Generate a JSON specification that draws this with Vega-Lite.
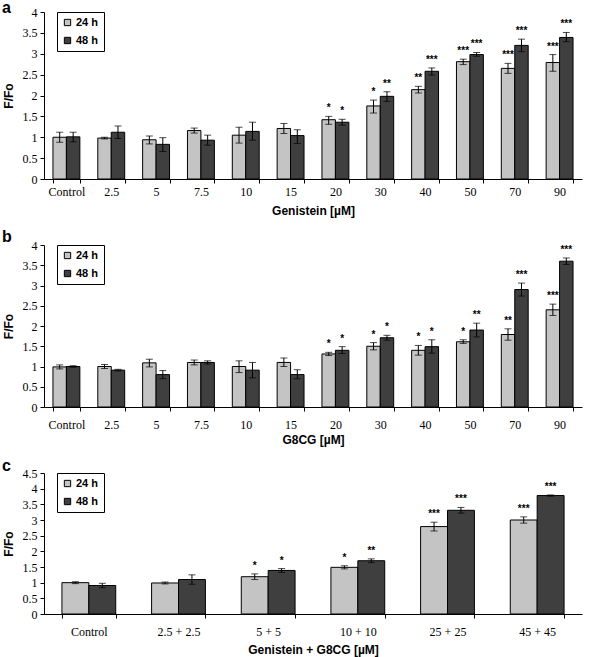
{
  "$schema": "https://vega.github.io/schema/vega-lite/v6.json",
  "padding": {"left": 2, "top": 0, "right": 8, "bottom": 4},
  "background": "white",
  "spacing": 13,
  "datasets": {
    "a": [
      {"conc": "Control", "time": "24 h", "mean": 1.0, "lo": 0.88, "hi": 1.12, "star": ""},
      {"conc": "Control", "time": "48 h", "mean": 1.01, "lo": 0.89, "hi": 1.12, "star": ""},
      {"conc": "2.5", "time": "24 h", "mean": 0.98, "lo": 0.96, "hi": 1.0, "star": ""},
      {"conc": "2.5", "time": "48 h", "mean": 1.12, "lo": 0.97, "hi": 1.27, "star": ""},
      {"conc": "5", "time": "24 h", "mean": 0.94, "lo": 0.84, "hi": 1.03, "star": ""},
      {"conc": "5", "time": "48 h", "mean": 0.83, "lo": 0.66, "hi": 0.99, "star": ""},
      {"conc": "7.5", "time": "24 h", "mean": 1.16, "lo": 1.1, "hi": 1.22, "star": ""},
      {"conc": "7.5", "time": "48 h", "mean": 0.93, "lo": 0.81, "hi": 1.05, "star": ""},
      {"conc": "10", "time": "24 h", "mean": 1.05, "lo": 0.86, "hi": 1.24, "star": ""},
      {"conc": "10", "time": "48 h", "mean": 1.14, "lo": 0.93, "hi": 1.36, "star": ""},
      {"conc": "15", "time": "24 h", "mean": 1.21, "lo": 1.09, "hi": 1.33, "star": ""},
      {"conc": "15", "time": "48 h", "mean": 1.04, "lo": 0.85, "hi": 1.18, "star": ""},
      {"conc": "20", "time": "24 h", "mean": 1.42, "lo": 1.31, "hi": 1.5, "star": "*"},
      {"conc": "20", "time": "48 h", "mean": 1.36, "lo": 1.29, "hi": 1.43, "star": "*"},
      {"conc": "30", "time": "24 h", "mean": 1.75, "lo": 1.58, "hi": 1.89, "star": "*"},
      {"conc": "30", "time": "48 h", "mean": 1.98, "lo": 1.86, "hi": 2.09, "star": "**"},
      {"conc": "40", "time": "24 h", "mean": 2.14, "lo": 2.06, "hi": 2.22, "star": "**"},
      {"conc": "40", "time": "48 h", "mean": 2.58, "lo": 2.49, "hi": 2.66, "star": "***"},
      {"conc": "50", "time": "24 h", "mean": 2.81, "lo": 2.74, "hi": 2.87, "star": "***"},
      {"conc": "50", "time": "48 h", "mean": 2.98, "lo": 2.94, "hi": 3.03, "star": "***"},
      {"conc": "70", "time": "24 h", "mean": 2.65, "lo": 2.53, "hi": 2.77, "star": "***"},
      {"conc": "70", "time": "48 h", "mean": 3.2, "lo": 3.05, "hi": 3.35, "star": "***"},
      {"conc": "90", "time": "24 h", "mean": 2.79, "lo": 2.58, "hi": 2.98, "star": "***"},
      {"conc": "90", "time": "48 h", "mean": 3.39, "lo": 3.29, "hi": 3.51, "star": "***"}
    ],
    "b": [
      {"conc": "Control", "time": "24 h", "mean": 0.99, "lo": 0.94, "hi": 1.04, "star": ""},
      {"conc": "Control", "time": "48 h", "mean": 1.0, "lo": 0.98, "hi": 1.02, "star": ""},
      {"conc": "2.5", "time": "24 h", "mean": 1.0, "lo": 0.95, "hi": 1.05, "star": ""},
      {"conc": "2.5", "time": "48 h", "mean": 0.91, "lo": 0.89, "hi": 0.93, "star": ""},
      {"conc": "5", "time": "24 h", "mean": 1.09, "lo": 0.99, "hi": 1.18, "star": ""},
      {"conc": "5", "time": "48 h", "mean": 0.8, "lo": 0.7, "hi": 0.9, "star": ""},
      {"conc": "7.5", "time": "24 h", "mean": 1.1, "lo": 1.04, "hi": 1.16, "star": ""},
      {"conc": "7.5", "time": "48 h", "mean": 1.1, "lo": 1.06, "hi": 1.14, "star": ""},
      {"conc": "10", "time": "24 h", "mean": 1.0, "lo": 0.85, "hi": 1.14, "star": ""},
      {"conc": "10", "time": "48 h", "mean": 0.91, "lo": 0.72, "hi": 1.1, "star": ""},
      {"conc": "15", "time": "24 h", "mean": 1.1, "lo": 1.0, "hi": 1.21, "star": ""},
      {"conc": "15", "time": "48 h", "mean": 0.8, "lo": 0.7, "hi": 0.92, "star": ""},
      {"conc": "20", "time": "24 h", "mean": 1.31, "lo": 1.27, "hi": 1.35, "star": "*"},
      {"conc": "20", "time": "48 h", "mean": 1.4, "lo": 1.32, "hi": 1.49, "star": "*"},
      {"conc": "30", "time": "24 h", "mean": 1.5, "lo": 1.41, "hi": 1.59, "star": "*"},
      {"conc": "30", "time": "48 h", "mean": 1.71, "lo": 1.65, "hi": 1.77, "star": "*"},
      {"conc": "40", "time": "24 h", "mean": 1.4, "lo": 1.28, "hi": 1.52, "star": "*"},
      {"conc": "40", "time": "48 h", "mean": 1.49, "lo": 1.33, "hi": 1.66, "star": "*"},
      {"conc": "50", "time": "24 h", "mean": 1.61, "lo": 1.57, "hi": 1.66, "star": "*"},
      {"conc": "50", "time": "48 h", "mean": 1.9, "lo": 1.73, "hi": 2.07, "star": "**"},
      {"conc": "70", "time": "24 h", "mean": 1.79, "lo": 1.65, "hi": 1.93, "star": "**"},
      {"conc": "70", "time": "48 h", "mean": 2.9, "lo": 2.74, "hi": 3.06, "star": "***"},
      {"conc": "90", "time": "24 h", "mean": 2.4, "lo": 2.26, "hi": 2.54, "star": "***"},
      {"conc": "90", "time": "48 h", "mean": 3.6, "lo": 3.52, "hi": 3.68, "star": "***"}
    ],
    "c": [
      {"conc": "Control", "time": "24 h", "mean": 1.0, "lo": 0.97, "hi": 1.03, "star": ""},
      {"conc": "Control", "time": "48 h", "mean": 0.91, "lo": 0.84, "hi": 0.98, "star": ""},
      {"conc": "2.5 + 2.5", "time": "24 h", "mean": 0.99, "lo": 0.96, "hi": 1.02, "star": ""},
      {"conc": "2.5 + 2.5", "time": "48 h", "mean": 1.1, "lo": 0.95, "hi": 1.25, "star": ""},
      {"conc": "5 + 5", "time": "24 h", "mean": 1.19, "lo": 1.1, "hi": 1.28, "star": "*"},
      {"conc": "5 + 5", "time": "48 h", "mean": 1.39, "lo": 1.33, "hi": 1.45, "star": "*"},
      {"conc": "10 + 10", "time": "24 h", "mean": 1.49, "lo": 1.44, "hi": 1.54, "star": "*"},
      {"conc": "10 + 10", "time": "48 h", "mean": 1.7, "lo": 1.64, "hi": 1.76, "star": "**"},
      {"conc": "25 + 25", "time": "24 h", "mean": 2.79, "lo": 2.65, "hi": 2.93, "star": "***"},
      {"conc": "25 + 25", "time": "48 h", "mean": 3.31, "lo": 3.22, "hi": 3.4, "star": "***"},
      {"conc": "45 + 45", "time": "24 h", "mean": 3.0, "lo": 2.9, "hi": 3.1, "star": "***"},
      {"conc": "45 + 45", "time": "48 h", "mean": 3.78, "lo": 3.76, "hi": 3.8, "star": "***"}
    ]
  },
  "resolve": {"scale": {"x": "independent", "y": "independent", "fill": "independent", "xOffset": "independent"}},
  "vconcat": [
    {
      "title": {"text": "a", "offset": -10},
      "width": 538,
      "height": 167,
      "data": {"name": "a"},
      "encoding": {
        "x": {"field": "conc", "type": "nominal", "sort": null, "scale": {"paddingInner": 0.4, "paddingOuter": 0.2}, "axis": {"title": "Genistein [µM]", "labelPadding": 3, "titlePadding": 8}},
        "xOffset": {"field": "time", "type": "nominal", "scale": {"paddingInner": 0}}
      },
      "layer": [
        {"mark": {"type": "bar", "stroke": "black", "strokeWidth": 1},
         "encoding": {
           "y": {"field": "mean", "type": "quantitative", "scale": {"domain": [0, 4], "nice": false}, "axis": {"title": "F/Fo", "values": [0, 0.5, 1, 1.5, 2, 2.5, 3, 3.5, 4], "format": ".1~f"}},
           "fill": {"field": "time", "type": "nominal", "scale": {"domain": ["24 h", "48 h"], "range": ["#c4c4c4", "#3f3f3f"]}, "legend": {"title": null}}
         }},
        {"mark": {"type": "rule", "color": "black", "strokeWidth": 1}, "encoding": {"y": {"field": "lo", "type": "quantitative", "axis": {"title": "F/Fo", "values": [0, 0.5, 1, 1.5, 2, 2.5, 3, 3.5, 4], "format": ".1~f"}}, "y2": {"field": "hi"}}},
        {"mark": {"type": "tick", "color": "black", "size": 7, "thickness": 1}, "encoding": {"y": {"field": "lo", "type": "quantitative", "axis": {"title": "F/Fo", "values": [0, 0.5, 1, 1.5, 2, 2.5, 3, 3.5, 4], "format": ".1~f"}}}},
        {"mark": {"type": "tick", "color": "black", "size": 7, "thickness": 1}, "encoding": {"y": {"field": "hi", "type": "quantitative", "axis": {"title": "F/Fo", "values": [0, 0.5, 1, 1.5, 2, 2.5, 3, 3.5, 4], "format": ".1~f"}}}},
        {"mark": {"type": "text", "baseline": "bottom", "dy": -3, "fontSize": 10, "font": "Liberation Sans", "fontWeight": "bold", "color": "black"}, "encoding": {"y": {"field": "hi", "type": "quantitative", "axis": {"title": "F/Fo", "values": [0, 0.5, 1, 1.5, 2, 2.5, 3, 3.5, 4], "format": ".1~f"}}, "text": {"field": "star"}}}
      ]
    },
    {
      "title": {"text": "b", "offset": -6},
      "width": 538,
      "height": 162,
      "data": {"name": "b"},
      "encoding": {
        "x": {"field": "conc", "type": "nominal", "sort": null, "scale": {"paddingInner": 0.4, "paddingOuter": 0.2}, "axis": {"title": "G8CG [µM]", "labelPadding": 8, "titlePadding": 4}},
        "xOffset": {"field": "time", "type": "nominal", "scale": {"paddingInner": 0}}
      },
      "layer": [
        {"mark": {"type": "bar", "stroke": "black", "strokeWidth": 1},
         "encoding": {
           "y": {"field": "mean", "type": "quantitative", "scale": {"domain": [0, 4], "nice": false}, "axis": {"title": "F/Fo", "values": [0, 0.5, 1, 1.5, 2, 2.5, 3, 3.5, 4], "format": ".1~f"}},
           "fill": {"field": "time", "type": "nominal", "scale": {"domain": ["24 h", "48 h"], "range": ["#c4c4c4", "#3f3f3f"]}, "legend": {"title": null}}
         }},
        {"mark": {"type": "rule", "color": "black", "strokeWidth": 1}, "encoding": {"y": {"field": "lo", "type": "quantitative", "axis": {"title": "F/Fo", "values": [0, 0.5, 1, 1.5, 2, 2.5, 3, 3.5, 4], "format": ".1~f"}}, "y2": {"field": "hi"}}},
        {"mark": {"type": "tick", "color": "black", "size": 7, "thickness": 1}, "encoding": {"y": {"field": "lo", "type": "quantitative", "axis": {"title": "F/Fo", "values": [0, 0.5, 1, 1.5, 2, 2.5, 3, 3.5, 4], "format": ".1~f"}}}},
        {"mark": {"type": "tick", "color": "black", "size": 7, "thickness": 1}, "encoding": {"y": {"field": "hi", "type": "quantitative", "axis": {"title": "F/Fo", "values": [0, 0.5, 1, 1.5, 2, 2.5, 3, 3.5, 4], "format": ".1~f"}}}},
        {"mark": {"type": "text", "baseline": "bottom", "dy": -3, "fontSize": 10, "font": "Liberation Sans", "fontWeight": "bold", "color": "black"}, "encoding": {"y": {"field": "hi", "type": "quantitative", "axis": {"title": "F/Fo", "values": [0, 0.5, 1, 1.5, 2, 2.5, 3, 3.5, 4], "format": ".1~f"}}, "text": {"field": "star"}}}
      ]
    },
    {
      "title": {"text": "c", "offset": -7},
      "width": 538,
      "height": 141,
      "data": {"name": "c"},
      "encoding": {
        "x": {"field": "conc", "type": "nominal", "sort": null, "scale": {"paddingInner": 0.4, "paddingOuter": 0.2}, "axis": {"title": "Genistein + G8CG [µM]", "labelPadding": 8, "titlePadding": 7}},
        "xOffset": {"field": "time", "type": "nominal", "scale": {"paddingInner": 0}}
      },
      "layer": [
        {"mark": {"type": "bar", "stroke": "black", "strokeWidth": 1},
         "encoding": {
           "y": {"field": "mean", "type": "quantitative", "scale": {"domain": [0, 4.5], "nice": false}, "axis": {"title": "F/Fo", "values": [0, 0.5, 1, 1.5, 2, 2.5, 3, 3.5, 4, 4.5], "format": ".1~f"}},
           "fill": {"field": "time", "type": "nominal", "scale": {"domain": ["24 h", "48 h"], "range": ["#c4c4c4", "#3f3f3f"]}, "legend": {"title": null}}
         }},
        {"mark": {"type": "rule", "color": "black", "strokeWidth": 1}, "encoding": {"y": {"field": "lo", "type": "quantitative", "axis": {"title": "F/Fo", "values": [0, 0.5, 1, 1.5, 2, 2.5, 3, 3.5, 4, 4.5], "format": ".1~f"}}, "y2": {"field": "hi"}}},
        {"mark": {"type": "tick", "color": "black", "size": 7, "thickness": 1}, "encoding": {"y": {"field": "lo", "type": "quantitative", "axis": {"title": "F/Fo", "values": [0, 0.5, 1, 1.5, 2, 2.5, 3, 3.5, 4, 4.5], "format": ".1~f"}}}},
        {"mark": {"type": "tick", "color": "black", "size": 7, "thickness": 1}, "encoding": {"y": {"field": "hi", "type": "quantitative", "axis": {"title": "F/Fo", "values": [0, 0.5, 1, 1.5, 2, 2.5, 3, 3.5, 4, 4.5], "format": ".1~f"}}}},
        {"mark": {"type": "text", "baseline": "bottom", "dy": -3, "fontSize": 10, "font": "Liberation Sans", "fontWeight": "bold", "color": "black"}, "encoding": {"y": {"field": "hi", "type": "quantitative", "axis": {"title": "F/Fo", "values": [0, 0.5, 1, 1.5, 2, 2.5, 3, 3.5, 4, 4.5], "format": ".1~f"}}, "text": {"field": "star"}}}
      ]
    }
  ],
  "config": {
    "view": {"stroke": null},
    "title": {"anchor": "start", "font": "Liberation Sans", "fontSize": 16, "fontWeight": "bold", "color": "black"},
    "axis": {
      "grid": false,
      "domainColor": "black",
      "tickColor": "black",
      "tickSize": 4,
      "labelFont": "Liberation Serif",
      "labelFontSize": 12,
      "labelColor": "black",
      "titleFont": "Liberation Sans",
      "titleFontSize": 12,
      "titleFontWeight": "bold",
      "titleColor": "black"
    },
    "axisX": {"labelAngle": 0, "tickBand": "extent"},
    "axisY": {"labelPadding": 3, "titlePadding": 7, "labelOverlap": false},
    "legend": {
      "orient": "none",
      "legendX": 13,
      "legendY": 0,
      "strokeColor": "black",
      "strokeWidth": 1,
      "padding": 5,
      "symbolType": "square",
      "symbolSize": 40,
      "symbolStrokeColor": "black",
      "symbolStrokeWidth": 1,
      "labelFont": "Liberation Sans",
      "labelFontSize": 11,
      "labelFontWeight": "bold",
      "labelColor": "black",
      "rowPadding": 6,
      "labelOffset": 3
    }
  }
}
